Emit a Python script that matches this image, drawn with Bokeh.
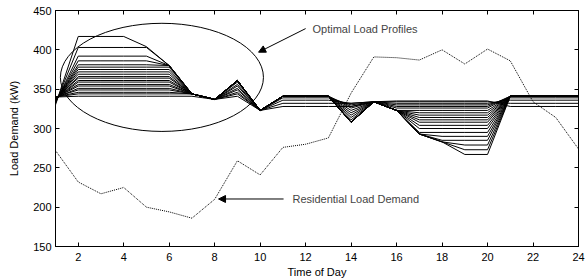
from bokeh.plotting import figure
from bokeh.models import (LinearAxis, Range1d, FixedTicker, Arrow, NormalHead, Label,
                          CustomLabelingPolicy)
from bokeh.embed import file_html
from bokeh.resources import INLINE

# ---------------- data ----------------
hours = list(range(1, 25))
x_ticks = list(range(2, 25, 2))
y_ticks = list(range(150, 451, 50))

residential_demand = [272, 232, 217, 225, 200, 194, 186, 210, 259, 241, 276, 280,
                      288, 345, 391, 390, 387, 400, 382, 401, 386, 334, 314, 274]

optimal_profiles = [
    [330, 417, 417, 417, 404, 380, 344, 337, 361, 323, 341, 341, 341, 308, 334, 323, 293, 283, 267, 267, 341, 341, 341, 341],
    [332, 403, 403, 403, 403, 380, 344, 337, 361, 323, 341, 341, 341, 308, 334, 323, 293, 283, 273, 273, 341, 341, 341, 341],
    [333, 392, 392, 392, 392, 380, 344, 337, 361, 323, 341, 341, 341, 308, 334, 323, 293, 283, 279, 279, 341, 341, 341, 341],
    [334, 386, 386, 386, 386, 380, 344, 337, 361, 323, 341, 341, 341, 308, 334, 323, 293, 285, 285, 285, 341, 341, 341, 341],
    [335, 381, 381, 381, 381, 380, 344, 337, 361, 323, 341, 341, 341, 308, 334, 323, 293, 290, 290, 290, 341, 341, 341, 341],
    [335, 378, 378, 378, 378, 378, 344, 337, 361, 323, 341, 341, 341, 308, 334, 323, 295, 295, 295, 295, 341, 341, 341, 341],
    [336, 375, 375, 375, 375, 375, 344, 337, 361, 323, 341, 341, 341, 308, 334, 323, 300, 300, 300, 300, 341, 341, 341, 341],
    [336, 372, 372, 372, 372, 372, 344, 337, 361, 323, 341, 341, 341, 308, 334, 323, 304, 304, 304, 304, 341, 341, 341, 341],
    [337, 369, 369, 369, 369, 369, 344, 337, 361, 323, 341, 341, 341, 308, 334, 323, 308, 308, 308, 308, 341, 341, 341, 341],
    [337, 366, 366, 366, 366, 366, 344, 337, 361, 323, 341, 341, 341, 311, 334, 323, 311, 311, 311, 311, 341, 341, 341, 341],
    [338, 364, 364, 364, 364, 364, 344, 337, 361, 323, 341, 341, 341, 314, 334, 323, 314, 314, 314, 314, 341, 341, 341, 341],
    [338, 361, 361, 361, 361, 361, 344, 337, 361, 323, 341, 341, 341, 317, 334, 323, 317, 317, 317, 317, 341, 341, 341, 341],
    [338, 359, 359, 359, 359, 359, 344, 337, 359, 323, 341, 341, 341, 320, 334, 323, 320, 320, 320, 320, 341, 341, 341, 341],
    [339, 356, 356, 356, 356, 356, 344, 337, 356, 323, 341, 341, 341, 323, 334, 323, 323, 323, 323, 323, 341, 341, 341, 341],
    [339, 354, 354, 354, 354, 354, 344, 337, 354, 323, 341, 341, 341, 326, 334, 326, 326, 326, 326, 326, 341, 341, 341, 341],
    [339, 351, 351, 351, 351, 351, 344, 337, 351, 323, 341, 341, 341, 328, 334, 328, 328, 328, 328, 328, 341, 341, 341, 341],
    [340, 349, 349, 349, 349, 349, 344, 337, 349, 323, 339, 339, 339, 330, 334, 330, 330, 330, 330, 330, 339, 339, 339, 339],
    [340, 346, 346, 346, 346, 346, 344, 337, 346, 323, 336, 336, 336, 332, 334, 332, 332, 332, 332, 332, 336, 336, 336, 336],
    [340, 344, 344, 344, 344, 344, 344, 337, 344, 323, 332, 332, 332, 332, 334, 334, 334, 334, 334, 334, 332, 332, 332, 332],
    [340, 341, 341, 341, 341, 341, 341, 337, 341, 323, 328, 328, 328, 328, 334, 335, 335, 335, 335, 335, 328, 328, 328, 328],
]

FONT = "Liberation Sans"
FS = "11px"

p = figure(width=585, height=280, x_range=Range1d(1, 24), y_range=Range1d(150, 450),
           output_backend="svg", toolbar_location=None,
           min_border_left=55, min_border_right=7, min_border_top=10, min_border_bottom=32,
           x_axis_label="Time of Day", y_axis_label="Load Demand (kW)")

p.xgrid.visible = False
p.ygrid.visible = False
p.outline_line_color = "black"
p.outline_line_alpha = 1
p.background_fill_color = "white"
p.border_fill_color = "white"

no_labels = CustomLabelingPolicy(code="""
for (const i of indices) { indices.unset(i) }
return indices
""")

def style_axis(ax, ticks, show_labels=True):
    ax.ticker = FixedTicker(ticks=ticks)
    ax.major_tick_in = 4
    ax.major_tick_out = 0
    ax.minor_tick_in = 0
    ax.minor_tick_out = 0
    ax.axis_line_color = "black"
    ax.major_tick_line_color = "black"
    ax.major_label_text_font = FONT
    ax.major_label_text_color = "black"
    ax.axis_label_text_font = FONT
    ax.axis_label_text_font_style = "normal"
    ax.axis_label_text_font_size = FS
    ax.axis_label_text_color = "black"
    if show_labels:
        ax.major_label_text_font_size = FS
    else:
        ax.major_label_text_font_size = "0px"
        ax.major_label_standoff = 0
        ax.major_label_policy = no_labels

style_axis(p.xaxis[0], x_ticks)
style_axis(p.yaxis[0], y_ticks)
p.xaxis[0].major_label_standoff = 6
p.xaxis[0].axis_label_standoff = 2
p.yaxis[0].major_label_standoff = 4
p.yaxis[0].axis_label_standoff = 10

top_ax = LinearAxis()
style_axis(top_ax, x_ticks, show_labels=False)
p.add_layout(top_ax, "above")
right_ax = LinearAxis()
style_axis(right_ax, y_ticks, show_labels=False)
p.add_layout(right_ax, "right")

# optimal load profiles
for prof in optimal_profiles:
    p.line(hours, prof, line_color="black", line_width=1)

# residential load demand
p.line(hours, residential_demand, line_color="black", line_width=1, line_dash="1 1")

# annotation: ellipse around profiles
ELL_X, ELL_Y, ELL_W, ELL_H = 5.68, 365, 8.93, 137.5
p.ellipse(x=[ELL_X], y=[ELL_Y], width=[ELL_W], height=[ELL_H],
          fill_color=None, line_color="black", line_width=1)

p.add_layout(Arrow(end=NormalHead(size=7, fill_color="black", line_color="black"),
                   x_start=12.0, y_start=427, x_end=9.93, y_end=397,
                   line_color="black", line_width=1))
p.add_layout(Label(x=12.3, y=426, text="Optimal Load Profiles", text_font=FONT,
                   text_font_size=FS, text_baseline="middle", text_align="left"))

p.add_layout(Arrow(end=NormalHead(size=7, fill_color="black", line_color="black"),
                   x_start=11.03, y_start=210.4, x_end=8.17, y_end=210.4,
                   line_color="black", line_width=1))
p.add_layout(Label(x=11.42, y=210.4, text="Residential Load Demand", text_font=FONT,
                   text_font_size=FS, text_baseline="middle", text_align="left"))

open("out.html", "w").write(file_html(p, INLINE))
